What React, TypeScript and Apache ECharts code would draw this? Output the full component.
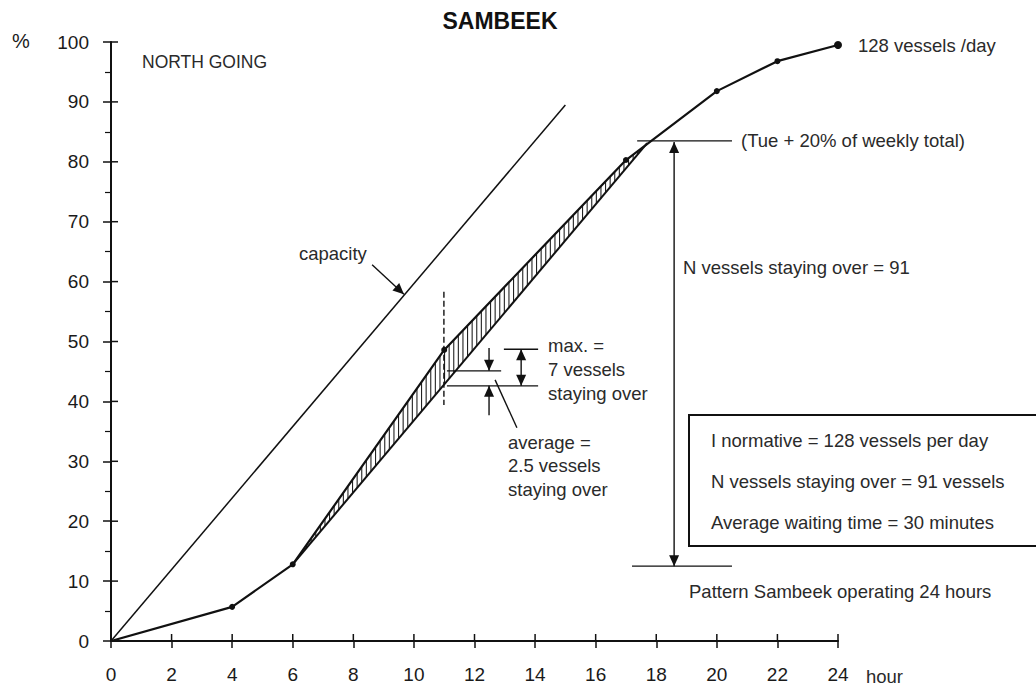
import React, { useEffect, useRef } from "react";
import * as echarts from "echarts";

// ---- data (hours, % of daily traffic) ----
const hours = [0, 4, 6, 11, 17, 20, 22, 24];
const arrivals = [0, 5.7, 12.8, 48.6, 80.3, 91.8, 96.8, 99.5];
const capacityHours = [0, 15];
const capacityValues = [0, 89.5];
const serviceHours = [6, 17.7];
const serviceValues = [12.8, 83.1];
const xRange = [0, 24];
const yRange = [0, 100];
const xTickValues = [0, 2, 4, 6, 8, 10, 12, 14, 16, 18, 20, 22, 24];
const yTickValues = [0, 10, 20, 30, 40, 50, 60, 70, 80, 90, 100];

// annotation segments: x1, y1, x2, y2, headAtStart, headAtEnd, dashed
const capacityPointer = [8.62, 62.8, 9.67, 57.9, 0, 1, 0];
const maxCursor = [10.99, 58.3, 10.99, 39.4, 0, 0, 1];
const maxTopLine = [12.97, 48.7, 14.1, 48.7, 0, 0, 0];
const maxBottomLine = [11.09, 42.6, 14.1, 42.6, 0, 0, 0];
const avgLine = [11.09, 45.1, 12.88, 45.1, 0, 0, 0];
const maxArrow = [13.54, 48.7, 13.54, 42.6, 1, 1, 0];
const avgArrowTop = [12.48, 48.9, 12.48, 45.1, 0, 1, 0];
const avgArrowBottom = [12.48, 37.7, 12.48, 42.6, 0, 1, 0];
const avgLeader = [12.68, 43.6, 13.4, 35.6, 0, 0, 0];
const tueLine = [17.37, 83.5, 20.5, 83.5, 0, 0, 0];
const startLine = [17.2, 12.5, 20.5, 12.5, 0, 0, 0];
const stayOverArrow = [18.59, 83.3, 18.59, 12.5, 1, 1, 0];

const FONT = "'Liberation Sans', Arial, Helvetica, sans-serif";
const TXT = "#2a2a2a";

function yAt(poly: number[][], x: number) {
  for (let i = 0; i < poly.length - 1; i++) {
    const a = poly[i], b = poly[i + 1];
    if (x >= a[0] && x <= b[0]) {
      const t = (x - a[0]) / (b[0] - a[0] || 1);
      return a[1] + t * (b[1] - a[1]);
    }
  }
  return poly[poly.length - 1][1];
}

function text(t: string, x: number, y: number, size = 18.5, extra: any = {}) {
  return {
    type: "text",
    x,
    y,
    silent: true,
    style: {
      text: t,
      font: `${extra.bold ? "bold " : ""}${size}px ${FONT}`,
      fill: extra.fill || TXT,
      textAlign: extra.align || "left",
      textVerticalAlign: "middle",
    },
  };
}

export default function App() {
  const ref = useRef<HTMLDivElement>(null);
  useEffect(() => {
    if (!ref.current) return;
    const chart = echarts.init(ref.current, undefined, { renderer: "svg" });

    const curve = hours.map((h, i) => [h, arrivals[i]]);
    const upperPts = curve.filter((p) => p[0] >= serviceHours[0] && p[0] <= serviceHours[1]);
    upperPts.push([serviceHours[1], serviceValues[1]]);
    const lowerPts = serviceHours.map((h, i) => [h, serviceValues[i]]);

    const segs = [
      capacityPointer, maxCursor, maxTopLine, maxBottomLine, avgLine, maxArrow,
      avgArrowTop, avgArrowBottom, avgLeader, tueLine, startLine, stayOverArrow,
    ];

    const innerTicks = [
      ...xTickValues.map((v) => [v, yRange[0], 0]),
      ...yTickValues.map((v) => [xRange[0], v, 1]),
    ];

    const axisCommon = {
      type: "value",
      splitLine: { show: false },
      axisLine: { show: true, onZero: false, lineStyle: { color: "#111", width: 2 } },
    };

    const option: any = {
      animation: false,
      backgroundColor: "#fff",
      grid: { left: 111, right: 198, top: 42, bottom: 49, containLabel: false },
      xAxis: {
        ...axisCommon,
        min: xRange[0], max: xRange[1], interval: 2,
        axisTick: { show: true, length: 7, lineStyle: { color: "#111", width: 1.5 } },
        axisLabel: { fontSize: 19, color: "#1a1a1a", fontFamily: FONT, margin: 24 },
      },
      yAxis: {
        ...axisCommon,
        min: yRange[0], max: yRange[1], interval: 10,
        axisTick: { show: true, length: 8, lineStyle: { color: "#111", width: 1.5 } },
        minorTick: { show: true, splitNumber: 2, length: 6, lineStyle: { color: "#111", width: 1.2 } },
        axisLabel: { fontSize: 19, color: "#1a1a1a", fontFamily: FONT, margin: 22 },
      },
      series: [
        {
          // inner half of the crossing tick marks
          type: "custom",
          data: innerTicks,
          z: 6,
          silent: true,
          renderItem: (_params: any, api: any) => {
            const p = api.coord([api.value(0), api.value(1)]);
            const isY = api.value(2) === 1;
            return {
              type: "line",
              shape: isY
                ? { x1: p[0], y1: p[1], x2: p[0] + 7, y2: p[1] }
                : { x1: p[0], y1: p[1], x2: p[0], y2: p[1] - 7 },
              style: { stroke: "#111", lineWidth: 1.5 },
            };
          },
        },
        {
          type: "line",
          data: capacityHours.map((h, i) => [h, capacityValues[i]]),
          symbol: "none",
          lineStyle: { color: "#111", width: 1.5 },
          z: 3,
        },
        {
          type: "line",
          data: lowerPts,
          symbol: "none",
          lineStyle: { color: "#111", width: 2 },
          z: 3,
        },
        {
          type: "line",
          data: curve,
          symbol: "circle",
          symbolSize: (_v: any, p: any) => (p.dataIndex === 0 ? 0 : p.dataIndex === hours.length - 1 ? 8 : 6),
          itemStyle: { color: "#111" },
          lineStyle: { color: "#111", width: 2.2 },
          z: 4,
        },
        {
          type: "custom",
          data: [[serviceHours[0], serviceValues[0]]],
          z: 2,
          renderItem: (_params: any, api: any) => {
            const up = upperPts.map((p) => api.coord(p));
            const lo = lowerPts.map((p) => api.coord(p));
            const x0 = up[0][0], x1 = up[up.length - 1][0];
            const children: any[] = [];
            for (let x = x0 + 4.6; x < x1 - 1; x += 4.6) {
              children.push({
                type: "line",
                shape: { x1: x, y1: yAt(up, x), x2: x, y2: yAt(lo, x) },
                style: { stroke: "#222", lineWidth: 1.1 },
              });
            }
            return { type: "group", children };
          },
        },
        {
          type: "custom",
          data: segs,
          encode: { x: [0, 2], y: [1, 3] },
          z: 5,
          renderItem: (_params: any, api: any) => {
            const p1 = api.coord([api.value(0), api.value(1)]);
            const p2 = api.coord([api.value(2), api.value(3)]);
            const children: any[] = [
              {
                type: "line",
                shape: { x1: p1[0], y1: p1[1], x2: p2[0], y2: p2[1] },
                style: {
                  stroke: "#111",
                  lineWidth: 1.4,
                  lineDash: api.value(6) ? [6, 3] : null,
                },
              },
            ];
            const head = (tip: number[], from: number[]) => {
              const dx = tip[0] - from[0], dy = tip[1] - from[1];
              const len = Math.sqrt(dx * dx + dy * dy) || 1;
              const ux = dx / len, uy = dy / len;
              const L = 11, W = 5;
              const bx = tip[0] - ux * L, by = tip[1] - uy * L;
              return {
                type: "polygon",
                shape: {
                  points: [
                    [tip[0], tip[1]],
                    [bx - uy * W, by + ux * W],
                    [bx + uy * W, by - ux * W],
                  ],
                },
                style: { fill: "#111" },
              };
            };
            if (api.value(4)) children.push(head(p1, p2));
            if (api.value(5)) children.push(head(p2, p1));
            return { type: "group", children };
          },
        },
      ],
      graphic: [
        text("SAMBEEK", 500, 21, 23, { bold: true, align: "center", fill: "#111" }),
        text("%", 12, 41, 20, { fill: "#1a1a1a" }),
        text("NORTH GOING", 142, 62, 17.5),
        text("128 vessels /day", 858, 45),
        text("(Tue + 20% of weekly total)", 741, 140),
        text("capacity", 299, 253),
        text("N vessels staying over = 91", 683, 267),
        text("max. =", 548, 345),
        text("7 vessels", 548, 369),
        text("staying over", 548, 393),
        text("average =", 508, 442),
        text("2.5 vessels", 508, 465),
        text("staying over", 508, 489),
        {
          type: "rect",
          shape: { x: 689, y: 415, width: 360, height: 131 },
          style: { fill: "none", stroke: "#111", lineWidth: 2 },
        },
        text("I normative = 128 vessels per day", 711, 440),
        text("N vessels staying over = 91 vessels", 711, 481),
        text("Average waiting time = 30 minutes", 711, 522),
        text("Pattern Sambeek operating 24 hours", 689, 591),
        text("hour", 866, 676),
      ],
    };
    chart.setOption(option);
    return () => chart.dispose();
  }, []);
  return (
    <div
      ref={ref}
      style={{ position: "absolute", left: 0, top: 0, width: 1036, height: 690, background: "#fff" }}
    />
  );
}
